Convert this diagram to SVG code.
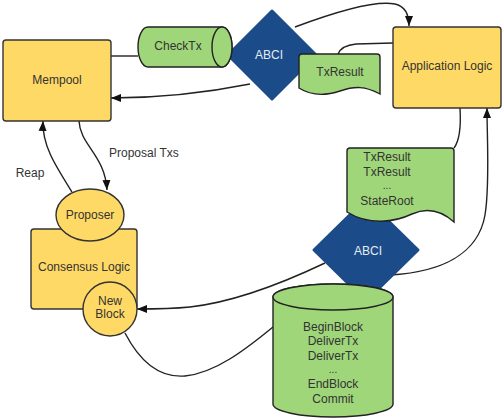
<svg xmlns="http://www.w3.org/2000/svg" width="504" height="418" viewBox="0 0 504 418">
<defs>
<marker id="arr" markerUnits="userSpaceOnUse" markerWidth="10" markerHeight="10" viewBox="0 0 10 10" refX="10" refY="5" orient="auto">
<path d="M0,1 L10,5 L0,9 Z" fill="#111"/>
</marker>
</defs>
<style>
.c{fill:none;stroke:#222;stroke-width:1.4}
.y{fill:#ffd966;stroke:#333;stroke-width:1.4}
.g{fill:#9fd67a;stroke:#222;stroke-width:1.4}
.b{fill:#1b4b88;stroke:#1b4b88;stroke-width:3;stroke-linejoin:round}
text{font-family:"Liberation Sans",Arial,sans-serif;font-size:12px;fill:#333;text-anchor:middle}
.w{fill:#e6ecf5}
.l{text-anchor:start}
</style>
<g id="connectors">
<path class="c" d="M111,56 L138,56"/>
<path class="c" d="M295,27 C335,12 375,0 395,4 C404,6 409,14 409,26" marker-end="url(#arr)"/>
<path class="c" d="M393,43 L356,44 C346,45 340,49 338,54"/>
<path class="c" d="M250,84 C200,94 160,98 111,98" marker-end="url(#arr)"/>
<path class="c" d="M72,192 C55,165 42,145 43,121" marker-end="url(#arr)"/>
<path class="c" d="M79,121 C80,145 105,155 107,190" marker-end="url(#arr)"/>
<path class="c" d="M325,263 C285,282 235,302 190,307 C170,309 155,309 137,309" marker-end="url(#arr)"/>
<path class="c" d="M125,333 C140,362 160,378 185,376 C215,373 245,350 273,327"/>
<path class="c" d="M390,275 C440,272 478,255 485,215 C490,185 487,140 487,108" marker-end="url(#arr)"/>
<path class="c" d="M460,108 C461,125 460,140 454,148"/>
<text class="l" x="109" y="157">Proposal Txs</text>
<text x="30" y="177">Reap</text>
</g>
<g id="mempool">
<rect class="y" x="3" y="40" width="108" height="81" rx="3"/>
<text x="57" y="84">Mempool</text>
</g>
<g id="abci-top">
<polygon class="b" points="272,11 316,55 272,99 228,55"/>
<text class="w" x="269" y="59">ABCI</text>
</g>
<g id="checktx">
<path class="g" d="M148,27 L222,27 A10,20 0 0 1 222,67 L148,67 A10,20 0 0 1 148,27 Z"/>
<ellipse class="g" cx="222" cy="47" rx="10" ry="20"/>
<text x="178" y="50">CheckTx</text>
</g>
<g id="txresult-top">
<path class="g" d="M302,54 L377,54 Q380,54 380,57 L380,94 C365,86 355,86 340,91 C325,96 310,95 299,88 L299,57 Q299,54 302,54 Z"/>
<text x="340" y="76">TxResult</text>
</g>
<g id="app-logic">
<rect class="y" x="393" y="27" width="108" height="81" rx="3"/>
<text x="447" y="70">Application Logic</text>
</g>
<g id="abci-bottom">
<polygon class="b" points="366,199 418,250 366,301 314,250"/>
<text class="w" x="368" y="255">ABCI</text>
</g>
<g id="txresults">
<path class="g" d="M350,148 L451,148 Q454,148 454,151 L454,222 C445,214 430,206 412,214 C395,222 370,226 347,212 L347,151 Q347,148 350,148 Z"/>
<text x="387" y="161">TxResult</text>
<text x="387" y="175.5">TxResult</text>
<text x="387" y="189" style="font-size:10px">...</text>
<text x="387" y="204.5">StateRoot</text>
</g>
<g id="block-cylinder">
<path class="g" d="M273,297 A60,13 0 0 1 393,297 L393,404 A60,13 0 0 1 273,404 Z"/>
<ellipse class="g" cx="333" cy="297" rx="60" ry="13"/>
<text x="333" y="330.5">BeginBlock</text>
<text x="333" y="345">DeliverTx</text>
<text x="333" y="359.5">DeliverTx</text>
<text x="333" y="373" style="font-size:10px">...</text>
<text x="333" y="388">EndBlock</text>
<text x="333" y="402.5">Commit</text>
</g>
<g id="consensus">
<rect class="y" x="31" y="229" width="106" height="80" rx="3"/>
<text x="84" y="271">Consensus Logic</text>
</g>
<g id="proposer">
<ellipse class="y" cx="90" cy="215" rx="34" ry="26"/>
<text x="90" y="219">Proposer</text>
</g>
<g id="new-block">
<circle class="y" cx="110" cy="309" r="27"/>
<text x="110" y="305">New</text>
<text x="110" y="318">Block</text>
</g>
</svg>
